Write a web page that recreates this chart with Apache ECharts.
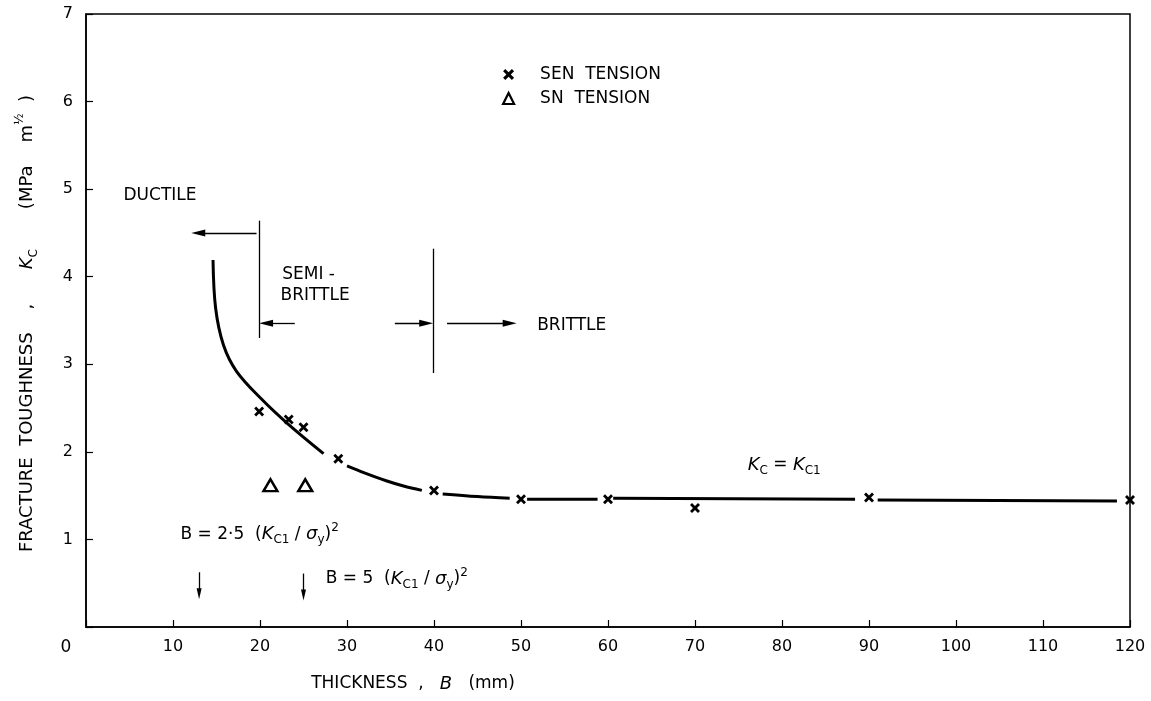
<!DOCTYPE html>
<html>
<head>
<meta charset="utf-8">
<script src="https://cdn.jsdelivr.net/npm/echarts@6/dist/echarts.min.js"></script>
<style>html,body{margin:0;padding:0;background:#fff}#chart{width:1151px;height:701px}</style>
</head>
<body>
<div id="chart"></div>
<script>
// ---------- data ----------
const senTension = [[19.9,2.46],[23.3,2.37],[25.0,2.28],[29.0,1.92],[40.0,1.56],[50.0,1.46],[60.0,1.46],[70.0,1.36],[90.0,1.48],[120.0,1.45]];
const snTension = [[21.2,1.62],[25.2,1.62]];
const curveSeg1 = [[14.6,4.19],[14.9,3.64],[15.8,3.22],[17.3,2.92],[20.2,2.60],[23.2,2.32],[27.3,1.98]];
const curveSeg2 = [[30.0,1.84],[32.0,1.76],[34.5,1.67],[36.5,1.61],[38.6,1.56]];
const curveSeg3 = [[41.0,1.52],[45.0,1.49],[48.7,1.47]];
const curveSeg4 = [[50.7,1.46],[58.8,1.46]];
const curveSeg5 = [[60.6,1.47],[88.4,1.46]];
const curveSeg6 = [[91.0,1.45],[118.5,1.44]];
const curveSegments = [curveSeg1, curveSeg2, curveSeg3, curveSeg4, curveSeg5, curveSeg6];
const xTickLabels = ['0','10','20','30','40','50','60','70','80','90','100','110','120'];
const yTickLabels = ['0','1','2','3','4','5','6','7'];
const seriesNames = ['SEN  TENSION', 'SN  TENSION'];

// guide lines and arrows (data coordinates)
const guideLines = [[[19.9,3.30],[19.9,4.64]], [[39.9,2.90],[39.9,4.32]]];
const arrowLines = [
  [[19.6,4.50],[12.9,4.50]],
  [[24.0,3.47],[20.7,3.47]],
  [[35.5,3.47],[39.1,3.47]],
  [[41.5,3.47],[48.7,3.47]]
];
const downArrows = [[[13.0,0.625],[13.0,0.38]], [[25.0,0.61],[25.0,0.365]]];

// text annotations (data coordinates)
const annotations = [
  {text:'DUCTILE', at:[4.25,4.93]},
  {text:'SEMI -', at:[22.5,4.03]},
  {text:'BRITTLE', at:[22.3,3.79]},
  {text:'BRITTLE', at:[51.8,3.44]},
  {text:'{i|K}{sub|C} = {i|K}{sub|C1}', at:[76.0,1.85]},
  {text:'B = 2·5  ({i|K}{sub|C1} / {g|σ}{sub|y}){sup|2}', at:[10.8,1.06]},
  {text:'B = 5  ({i|K}{sub|C1} / {g|σ}{sub|y}){sup|2}', at:[27.5,0.55]},
  {text:'0', at:[-2.3,-0.23], pos:'inside'}
];

// ---------- styles ----------
const FONT = 'DejaVu Sans';
const INK = '#000';
const crossPath = 'path://M0,2L2,0L5,3L8,0L10,2L7,5L10,8L8,10L5,7L2,10L0,8L3,5Z';
const arrowPath = 'path://M5,0L10,20L0,20Z';
const richStyles = {
  i: {fontFamily: FONT, fontStyle: 'italic', fontSize: 18, color: INK},
  g: {fontFamily: FONT, fontStyle: 'italic', fontSize: 18, color: INK},
  sub: {fontFamily: FONT, fontSize: 12, color: INK, verticalAlign: 'bottom', lineHeight: 12},
  sup: {fontFamily: FONT, fontSize: 12, color: INK, verticalAlign: 'top', lineHeight: 12}
};

const chart = echarts.init(document.getElementById('chart'), null, {renderer: 'canvas'});

const markLineData = [];
guideLines.forEach(g => markLineData.push([{coord: g[0], symbol: 'none'}, {coord: g[1], symbol: 'none'}]));
arrowLines.forEach(a => markLineData.push([{coord: a[0], symbol: 'none'}, {coord: a[1], symbol: arrowPath, symbolSize: [7, 14]}]));
downArrows.forEach(a => markLineData.push([{coord: a[0], symbol: 'none'}, {coord: a[1], symbol: arrowPath, symbolSize: [5, 11]}]));

const series = [];
curveSegments.forEach((seg, k) => {
  series.push({
    type: 'line', name: 'curve' + k, data: seg, smooth: 0.35, showSymbol: false,
    lineStyle: {color: INK, width: 3}, silent: true, z: 2
  });
});
series.push({
  type: 'scatter', name: seriesNames[0], data: senTension, symbol: crossPath, symbolSize: 10,
  itemStyle: {color: INK, opacity: 1}, z: 4
});
series.push({
  type: 'scatter', name: seriesNames[1], data: snTension, symbol: 'triangle', symbolSize: [14, 12],
  itemStyle: {color: '#fff', borderColor: INK, borderWidth: 2.4, opacity: 1}, z: 4
});
series.push({
  type: 'line', name: 'guides', data: [], silent: true,
  markLine: {
    silent: true, animation: false, symbol: ['none', 'none'],
    lineStyle: {color: INK, width: 1.3, type: 'solid', opacity: 1},
    itemStyle: {color: INK},
    label: {show: false}, emphasis: {disabled: true},
    data: markLineData
  }
});
series.push({
  type: 'scatter', name: 'annotations', silent: true, clip: false, symbolSize: 1,
  itemStyle: {color: 'rgba(0,0,0,0)', opacity: 1}, z: 6,
  data: annotations.map(a => ({value: a.at, text: a.text, label: {position: a.pos || 'right'}})),
  label: {
    show: true, position: 'right', distance: 0, formatter: p => p.data.text,
    fontFamily: FONT, fontSize: 17, color: INK, opacity: 1, lineHeight: 24, rich: richStyles
  }
});

chart.setOption({
  animation: false,
  backgroundColor: '#fff',
  grid: {left: 86, right: 21, top: 14, bottom: 71, show: true, borderColor: INK, borderWidth: 1.5, backgroundColor: 'transparent'},
  legend: {
    orient: 'vertical', left: 497, top: 61, itemWidth: 11, itemHeight: 11, itemGap: 7,
    selectedMode: false,
    data: [
      {name: seriesNames[0], icon: crossPath, itemStyle: {color: INK, opacity: 1}},
      {name: seriesNames[1], icon: 'triangle', itemStyle: {color: '#fff', borderColor: INK, borderWidth: 2.2, opacity: 1}}
    ],
    textStyle: {fontFamily: FONT, fontSize: 17, color: INK, padding: [0, 0, 0, 21]}
  },
  xAxis: {
    type: 'value', min: 0, max: 120, interval: 10,
    axisLine: {show: true, onZero: false, lineStyle: {color: INK, width: 1.5}},
    axisTick: {show: true, inside: true, length: 7, lineStyle: {color: INK, width: 1.2}},
    splitLine: {show: false},
    axisLabel: {margin: 12, fontFamily: FONT, fontSize: 16, color: INK,
      formatter: v => v === 0 ? '' : xTickLabels[Math.round(v / 10)]},
    name: 'THICKNESS  ,   {i|B}   (mm)', nameLocation: 'middle', nameGap: 45,
    nameTextStyle: {fontFamily: FONT, fontSize: 17, color: INK, lineHeight: 24, padding: [0, 390, 0, 0], rich: richStyles}
  },
  yAxis: {
    type: 'value', min: 0, max: 7, interval: 1,
    axisLine: {show: true, onZero: false, lineStyle: {color: INK, width: 1.5}},
    axisTick: {show: true, inside: true, length: 7, lineStyle: {color: INK, width: 1.2}},
    splitLine: {show: false},
    axisLabel: {margin: 13, fontFamily: FONT, fontSize: 16, color: INK,
      formatter: v => v === 0 ? '' : yTickLabels[Math.round(v)]},
    name: 'FRACTURE  TOUGHNESS    ,      {i|K}{sub|C}       (MPa    m{sup|½}  )', nameLocation: 'middle', nameGap: 46,
    nameTextStyle: {fontFamily: FONT, fontSize: 18, color: INK, lineHeight: 26, padding: [0, 6, 0, 0], rich: richStyles}
  },
  tooltip: {show: false},
  series: series
});
</script>
</body>
</html>
